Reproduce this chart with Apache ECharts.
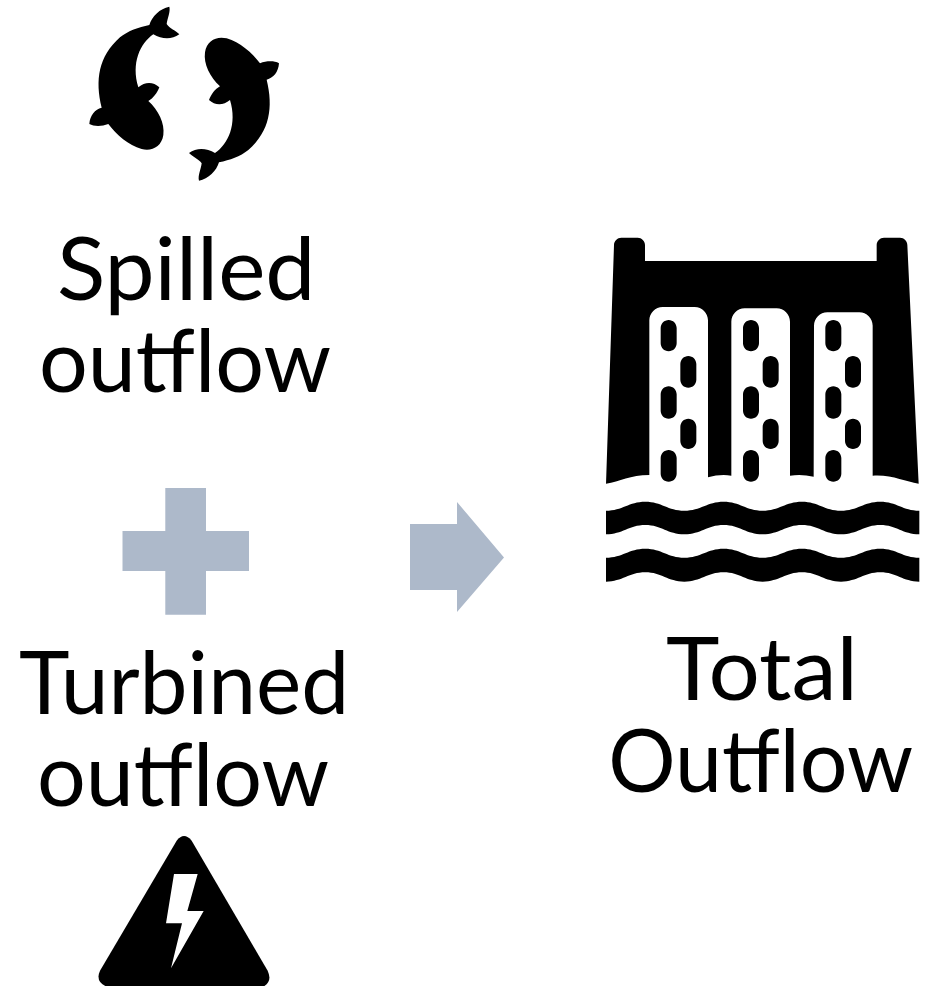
<!DOCTYPE html>
<html>
<head>
<meta charset="utf-8">
<style>
  html, body { margin: 0; padding: 0; background: #fff; }
  #chart { width: 930px; height: 986px; }
</style>
<script src="https://cdn.jsdelivr.net/npm/echarts@6/dist/echarts.min.js"></script>
</head>
<body>
<div id="chart"></div>
<script>
const labelText = ['Spilled', 'outflow', 'Turbined', 'outflow', 'Total', 'Outflow'];

// where each label sits: left edge, right edge, centre y
const labelLayout = [
    [59, 310, 272],
    [42, 330, 364],
    [20, 344, 686],
    [40, 328, 778],
    [667, 852, 672],
    [612, 912, 764]
];

const labelFont = '88px Lato';
const accent = '#adb9ca';
const ink = '#000000';

// wavy band of the water, start at a trough
function waveBand(x0, top, crest, bottom, bottomCrest) {
    let d = 'M' + x0 + ' ' + top;
    let x = x0;
    for (let i = 0; i < 4; i++) {
        d += ' C' + (x + 50) + ' ' + top + ' ' + (x + 68) + ' ' + crest + ' ' + (x + 118) + ' ' + crest;
        d += ' C' + (x + 167) + ' ' + crest + ' ' + (x + 185) + ' ' + top + ' ' + (x + 235) + ' ' + top;
        x += 235;
    }
    d += ' L' + x + ' ' + bottom;
    for (let i = 0; i < 4; i++) {
        d += ' C' + (x - 50) + ' ' + bottom + ' ' + (x - 68) + ' ' + bottomCrest + ' ' + (x - 117) + ' ' + bottomCrest;
        d += ' C' + (x - 167) + ' ' + bottomCrest + ' ' + (x - 185) + ' ' + bottom + ' ' + (x - 235) + ' ' + bottom;
        x -= 235;
    }
    return d + ' Z';
}

function capsule(x, y, w, h) {
    const r = w / 2;
    const k = r * 0.55;
    return 'M' + x + ' ' + (y + r) +
        ' C' + x + ' ' + (y + r - k) + ' ' + (x + r - k) + ' ' + y + ' ' + (x + r) + ' ' + y +
        ' C' + (x + r + k) + ' ' + y + ' ' + (x + w) + ' ' + (y + r - k) + ' ' + (x + w) + ' ' + (y + r) +
        ' L' + (x + w) + ' ' + (y + h - r) +
        ' C' + (x + w) + ' ' + (y + h - r + k) + ' ' + (x + r + k) + ' ' + (y + h) + ' ' + (x + r) + ' ' + (y + h) +
        ' C' + (x + r - k) + ' ' + (y + h) + ' ' + x + ' ' + (y + h - r + k) + ' ' + x + ' ' + (y + h - r) + ' Z';
}

const fishPath = 'M238 75 C245 50 270 25 298 20 C302 35 292 55 290 72 C298 85 318 92 328 103 ' +
    'C305 120 275 118 250 103 C210 130 183 190 205 262 C225 245 250 245 268 262 C262 278 250 295 235 303 ' +
    'C265 330 285 370 280 405 C275 440 245 455 215 447 C175 435 140 405 115 372 C95 380 72 380 58 372 ' +
    'C60 345 75 328 95 323 C75 240 85 170 150 112 C175 92 205 82 238 75 Z';

const damBody = 'M72 60 C72 48 82 38 94 38 L143 38 C155 38 165 48 165 60 L165 108 L860 108 L860 60 C860 48 870 38 882 38 ' +
    'L930 38 C942 38 952 48 952 60 L986 776 C945 770 905 748 848 752 L848 302 C848 280 830 262 808 262 L712 262 C690 262 672 280 672 302 ' +
    'L671 755 Q635 747 600 752 L600 290 C600 268 582 250 560 250 L464 250 C442 250 424 268 424 290 L424 752 Q390 747 354 757 ' +
    'L354 286 C354 264 336 246 314 246 L218 246 C196 246 178 264 178 286 L178 750 C120 750 90 770 48 776 Z';

const damHoles = [212, 459, 706].map(function (x) {
    return capsule(x, 285, 48, 94) + ' ' + capsule(x + 59, 393, 48, 95) + ' ' + capsule(x, 484, 48, 97) + ' ' +
        capsule(x + 59, 581, 48, 91) + ' ' + capsule(x, 675, 48, 95);
}).join(' ');

const triangle = 'M290 62 Q312 34 335 62 L563 452 Q578 485 550 500 L80 500 Q45 485 60 452 Z';
const bolt = 'M282 162 L353 162 L322 273 L371 273 L273 445 L306 310 L258 310 Z';

const plus = 'M165.3 488 L206 488 L206 531 L249 531 L249 571 L206 571 L206 614.7 L165.3 614.7 L165.3 571 L122.5 571 L122.5 531 L165.3 531 Z';
const arrow = 'M410 524 L457 524 L457 502 L504 557.5 L457 612 L457 590 L410 590 Z';

function pathEl(d, x, y, k, fill) {
    return { type: 'path', shape: { pathData: d }, x: x, y: y, scaleX: k, scaleY: k, style: { fill: fill } };
}

// squeeze each label so its ink fills the left..right span
const measure = document.createElement('canvas').getContext('2d');
measure.font = labelFont;

const chart = echarts.init(document.getElementById('chart'), null, { renderer: 'canvas' });

chart.setOption({
    backgroundColor: '#fff',
    animation: false,
    series: [{
        type: 'custom',
        coordinateSystem: 'none',
        silent: true,
        data: [0],
        renderItem: function () {
            const children = [
                pathEl(fishPath, 70, 0, 1 / 3, ink),
                pathEl(fishPath, 70 + 685 / 3, 562 / 3, -1 / 3, ink),
                pathEl(plus, 0, 0, 1, accent),
                pathEl(arrow, 0, 0, 1, accent),
                pathEl(damBody, 590, 225, 1 / 3, ink),
                pathEl(damHoles, 590, 225, 1 / 3, ink),
                pathEl(waveBand(48, 857, 830, 928, 900), 590, 225, 1 / 3, ink),
                pathEl(waveBand(48, 998, 971, 1070, 1042), 590, 225, 1 / 3, ink),
                pathEl(triangle, 80, 820, 1 / 3, ink),
                pathEl(bolt, 80, 820, 1 / 3, '#fff')
            ];
            labelText.forEach(function (t, i) {
                const pos = labelLayout[i];
                const m = measure.measureText(t);
                const k = (pos[1] - pos[0]) / (m.actualBoundingBoxLeft + m.actualBoundingBoxRight);
                children.push({
                    type: 'text',
                    x: pos[0] + m.actualBoundingBoxLeft * k,
                    y: pos[2],
                    scaleX: k,
                    style: {
                        text: t,
                        font: labelFont,
                        fill: '#000',
                        align: 'left',
                        verticalAlign: 'middle'
                    }
                });
            });
            return { type: 'group', children: children };
        }
    }]
});
</script>
</body>
</html>
